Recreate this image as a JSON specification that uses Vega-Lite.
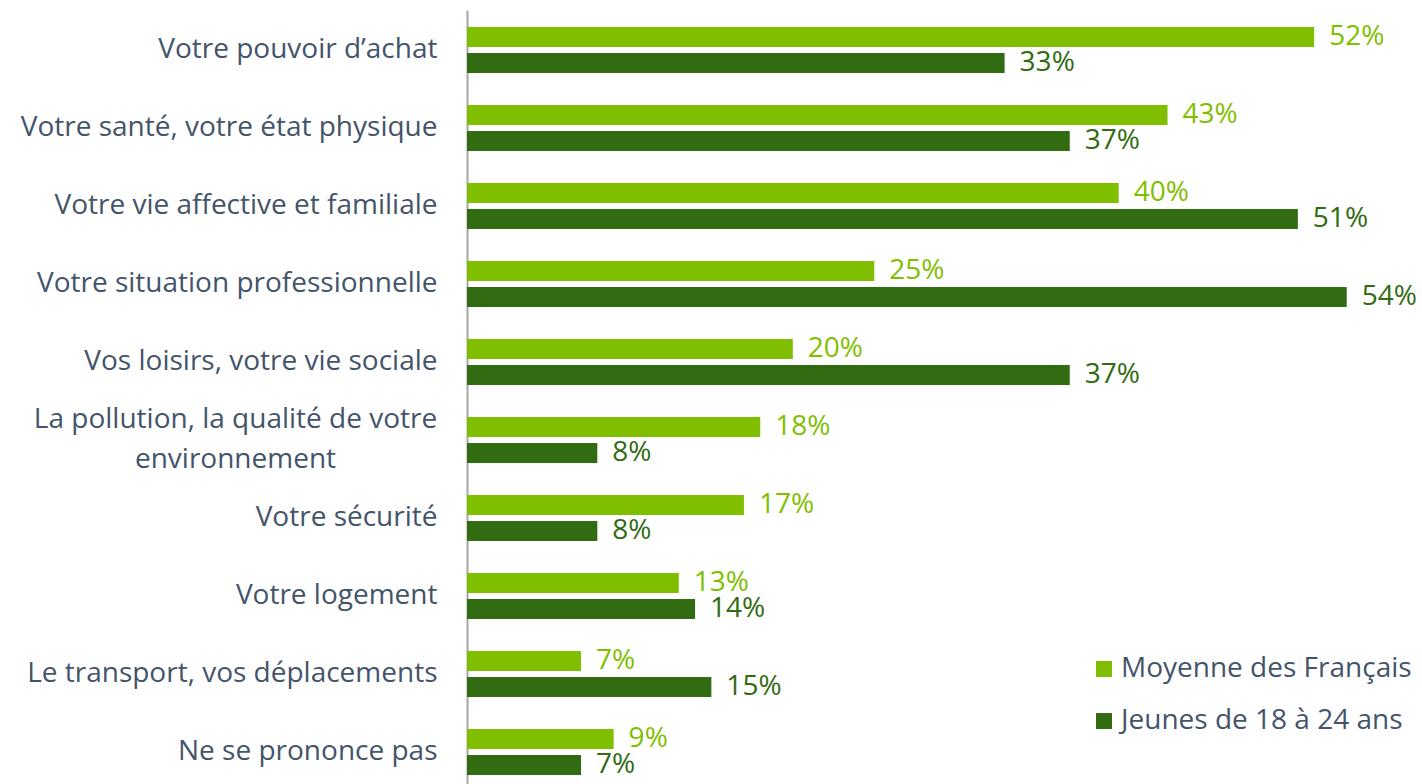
{
  "$schema": "https://vega.github.io/schema/vega-lite/v6.json",
  "width": 955,
  "height": 774,
  "autosize": {"type": "none"},
  "padding": {"left": 467, "top": 10, "right": 0, "bottom": 0},
  "background": "white",
  "config": {"view": {"stroke": null}, "font": "Open Sans"},
  "data": {
    "values": [
      {"cat": "Votre pouvoir d’achat", "serie": "Moyenne des Français", "value": 0.52},
      {"cat": "Votre pouvoir d’achat", "serie": "Jeunes de 18 à 24 ans", "value": 0.33},
      {"cat": "Votre santé, votre état physique", "serie": "Moyenne des Français", "value": 0.43},
      {"cat": "Votre santé, votre état physique", "serie": "Jeunes de 18 à 24 ans", "value": 0.37},
      {"cat": "Votre vie affective et familiale", "serie": "Moyenne des Français", "value": 0.40},
      {"cat": "Votre vie affective et familiale", "serie": "Jeunes de 18 à 24 ans", "value": 0.51},
      {"cat": "Votre situation professionnelle", "serie": "Moyenne des Français", "value": 0.25},
      {"cat": "Votre situation professionnelle", "serie": "Jeunes de 18 à 24 ans", "value": 0.54},
      {"cat": "Vos loisirs, votre vie sociale", "serie": "Moyenne des Français", "value": 0.20},
      {"cat": "Vos loisirs, votre vie sociale", "serie": "Jeunes de 18 à 24 ans", "value": 0.37},
      {"cat": "La pollution, la qualité de votre|environnement", "serie": "Moyenne des Français", "value": 0.18},
      {"cat": "La pollution, la qualité de votre|environnement", "serie": "Jeunes de 18 à 24 ans", "value": 0.08},
      {"cat": "Votre sécurité", "serie": "Moyenne des Français", "value": 0.17},
      {"cat": "Votre sécurité", "serie": "Jeunes de 18 à 24 ans", "value": 0.08},
      {"cat": "Votre logement", "serie": "Moyenne des Français", "value": 0.13},
      {"cat": "Votre logement", "serie": "Jeunes de 18 à 24 ans", "value": 0.14},
      {"cat": "Le transport, vos déplacements", "serie": "Moyenne des Français", "value": 0.07},
      {"cat": "Le transport, vos déplacements", "serie": "Jeunes de 18 à 24 ans", "value": 0.15},
      {"cat": "Ne se prononce pas", "serie": "Moyenne des Français", "value": 0.09},
      {"cat": "Ne se prononce pas", "serie": "Jeunes de 18 à 24 ans", "value": 0.07}
    ]
  },
  "encoding": {
    "y": {
      "field": "cat",
      "type": "nominal",
      "sort": null,
      "scale": {"paddingInner": 0.41, "paddingOuter": 0.1667, "align": 0.654},
      "axis": {
        "title": null,
        "ticks": false,
        "domainColor": "#a6a6a6",
        "domainWidth": 2,
        "labelFontSize": 28,
        "labelColor": "#44546A",
        "labelFont": "Open Sans",
        "labelLimit": 0,
        "labelLineHeight": 40,
        "labelExpr": "split(datum.label, '|')",
        "labelAlign": {"condition": {"test": "indexof(datum.value, '|') >= 0", "value": "center"}, "value": "right"},
        "labelPadding": {"condition": {"test": "indexof(datum.value, '|') >= 0", "value": 232}, "value": 30},
        "labelOffset": {"condition": {"test": "indexof(datum.value, '|') >= 0", "value": -20}, "value": 0}
      }
    },
    "yOffset": {
      "field": "serie",
      "sort": ["Moyenne des Français", "Jeunes de 18 à 24 ans"],
      "scale": {"paddingInner": 0.23, "paddingOuter": 0}
    },
    "x": {
      "field": "value",
      "type": "quantitative",
      "scale": {"domain": [0, 0.5862], "nice": false, "zero": true},
      "axis": null
    }
  },
  "layer": [
    {
      "mark": {"type": "bar"},
      "encoding": {
        "color": {
          "field": "serie",
          "type": "nominal",
          "sort": ["Moyenne des Français", "Jeunes de 18 à 24 ans"],
          "scale": {"domain": ["Moyenne des Français", "Jeunes de 18 à 24 ans"], "range": ["#7FBF00", "#316B12"]},
          "legend": {
            "title": null,
            "orient": "none",
            "legendX": 623,
            "legendY": 645,
            "symbolType": "square",
            "symbolSize": 256,
            "symbolStrokeWidth": 0,
            "symbolOpacity": 1,
            "labelFontSize": 28,
            "labelFont": "Open Sans",
            "labelColor": "#44546A",
            "labelOffset": 3,
            "rowPadding": 24,
            "labelLimit": 0
          }
        }
      }
    },
    {
      "mark": {"type": "text", "align": "left", "baseline": "middle", "dx": 15, "fontSize": 28, "font": "Open Sans"},
      "encoding": {
        "text": {"field": "value", "type": "quantitative", "format": ".0%"},
        "color": {"field": "serie", "type": "nominal", "legend": null}
      }
    }
  ]
}
